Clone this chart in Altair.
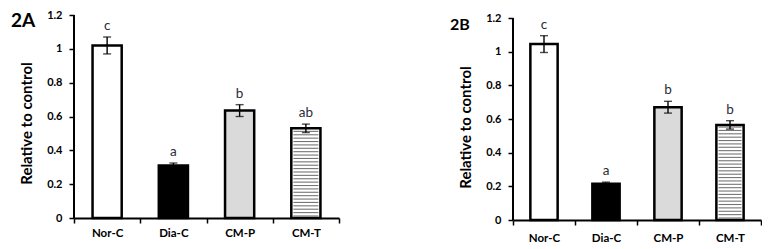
import altair as alt
import pandas as pd
import numpy as np

groups = ["Nor-C", "Dia-C", "CM-P", "CM-T"]
fills = ["#ffffff", "#000000", "#dadada", "#ffffff"]
y_ticks = [0, 0.2, 0.4, 0.6, 0.8, 1, 1.2]

a_vals = [1.02, 0.31, 0.635, 0.53]
a_err = [0.05, 0.015, 0.035, 0.025]
a_letters = ["c", "a", "b", "ab"]

b_vals = [1.045, 0.215, 0.67, 0.565]
b_err = [0.05, 0.01, 0.035, 0.025]
b_letters = ["c", "a", "b", "b"]

FONT = "Lato"


def panel(vals, errs, letters, tag, width, height, ymax, label_pad, title_y, tag_y, tag_size, stripe_len):
    df = pd.DataFrame({
        "g": groups,
        "v": vals,
        "lo": [v - e for v, e in zip(vals, errs)],
        "hi": [v + e for v, e in zip(vals, errs)],
        "letter": letters,
        "fill": fills,
    })
    # horizontal hatch lines for the striped bar
    tv = vals[3]
    stripes = pd.DataFrame({"g": "CM-T", "s": np.arange(0.012, tv - 0.008, 0.02)})

    xscale = alt.Scale(paddingInner=0, paddingOuter=0)
    xaxis = alt.Axis(title=None, tickBand="extent", labelAngle=0, labelFont=FONT,
                     labelFontWeight="bold", labelFontSize=11.5, labelColor="black",
                     labelPadding=label_pad, domainColor="black", domainWidth=2,
                     tickColor="black", tickWidth=1.5, tickSize=5)
    yscale = alt.Scale(domain=[0, ymax], nice=False, zero=True)
    yaxis = alt.Axis(values=y_ticks, format="~g", title="Relative to control",
                     titleFont=FONT, titleFontSize=15, titleFontWeight="bold",
                     titleColor="black", titlePadding=12, titleY=title_y,
                     labelFont=FONT, labelFontWeight="bold", labelFontSize=11,
                     labelColor="black", labelPadding=7, labelOverlap=False,
                     labelFlush=False, domain=False,
                     tickColor="black", tickWidth=1.5, tickSize=5, grid=False)

    def xo():
        return alt.X("g:N", sort=groups, scale=xscale, axis=xaxis)

    def yo(field):
        return alt.Y(field, scale=yscale, axis=yaxis)

    base = alt.Chart(df)
    bars = base.mark_bar(width=alt.RelativeBandSize(0.44), stroke="black", strokeWidth=2.5).encode(
        x=xo(), y=yo("v:Q"), fill=alt.Fill("fill:N", scale=None))
    hatch = alt.Chart(stripes).mark_tick(color="#3a3a3a", thickness=1.1, size=stripe_len, orient="horizontal").encode(
        x=xo(), y=yo("s:Q"))
    err = base.mark_rule(color="black", strokeWidth=1.4).encode(x=xo(), y=yo("lo:Q"), y2="hi:Q")
    cap_lo = base.mark_tick(color="black", thickness=1.4, size=8, orient="horizontal").encode(x=xo(), y=yo("lo:Q"))
    cap_hi = base.mark_tick(color="black", thickness=1.4, size=8, orient="horizontal").encode(x=xo(), y=yo("hi:Q"))
    txt = base.mark_text(dy=-11, font=FONT, fontSize=13.5, color="#2b2b3a").encode(
        x=xo(), y=yo("hi:Q"), text="letter:N")
    yline = alt.Chart(pd.DataFrame({"y0": [0], "y1": [1.2]})).mark_rule(color="black", strokeWidth=2).encode(
        x=alt.value(0), y=yo("y0:Q"), y2="y1:Q")
    lab = alt.Chart(pd.DataFrame({"t": [tag]})).mark_text(
        font=FONT, fontSize=tag_size, fontWeight="bold", color="black", align="left", baseline="middle").encode(
        x=alt.value(-63), y=alt.value(tag_y), text="t:N")

    return alt.layer(bars, hatch, err, cap_lo, cap_hi, txt, yline, lab).properties(width=width, height=height)


pa = panel(a_vals, a_err, a_letters, "2A", 265, 203, 1.2, 4, 108, 6, 19, 25)
pb = panel(b_vals, b_err, b_letters, "2B", 248, 205, 1.2 * 205 / 202, 7, 112, 10, 16, 23)

chart = alt.hconcat(pa, pb, spacing=110).properties(
    padding={"left": 3, "top": 1, "right": 0, "bottom": 0}
).configure_view(stroke=None)

chart.save("out.html", embed_options={"renderer": "svg", "actions": False})
